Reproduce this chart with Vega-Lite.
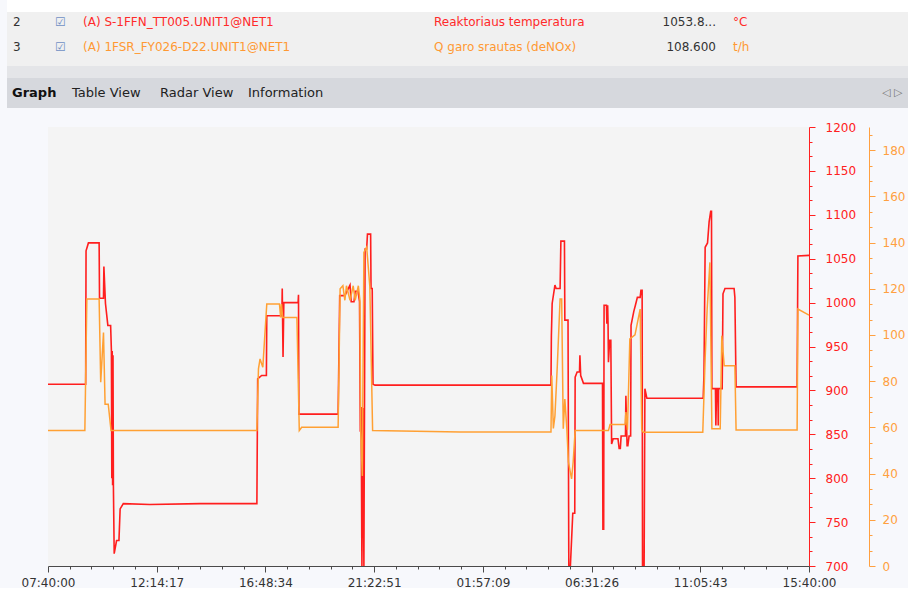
{
 "$schema": "https://vega.github.io/schema/vega-lite/v6.json",
 "background": "#f7f8fc",
 "padding": {"left": 7, "top": 0, "right": 0, "bottom": 0},
 "bounds": "full",
 "spacing": 13,
 "config": {"view": {"stroke": null}, "font": "DejaVu Sans", "axis": {"grid": false}},
 "datasets": {
  "table": [
   {"row":2,"col":1,"text":"2","tone":"ink"},
   {"row":2,"col":2,"text":"☑","tone":"box"},
   {"row":2,"col":3,"text":"(A) S-1FFN_TT005.UNIT1@NET1","tone":"temp"},
   {"row":2,"col":4,"text":"Reaktoriaus temperatura","tone":"temp"},
   {"row":2,"col":5,"text":"1053.8...","tone":"ink"},
   {"row":2,"col":6,"text":"°C","tone":"temp"},
   {"row":3,"col":1,"text":"3","tone":"ink"},
   {"row":3,"col":2,"text":"☑","tone":"box"},
   {"row":3,"col":3,"text":"(A) 1FSR_FY026-D22.UNIT1@NET1","tone":"flow"},
   {"row":3,"col":4,"text":"Q garo srautas (deNOx)","tone":"flow"},
   {"row":3,"col":5,"text":"108.600","tone":"ink"},
   {"row":3,"col":6,"text":"t/h","tone":"flow"}
  ],
  "tabs": [
   {"tab":1,"text":"Graph","selected":true},
   {"tab":2,"text":"Table View","selected":false},
   {"tab":3,"text":"Radar View","selected":false},
   {"tab":4,"text":"Information","selected":false},
   {"tab":5,"text":"◁ ▷","selected":false}
  ],
  "temp": [
   {"t":"2021-01-01T07:40Z","v":907},
   {"t":"2021-01-01T09:15Z","v":907},
   {"t":"2021-01-01T09:16Z","v":1059},
   {"t":"2021-01-01T09:22Z","v":1068},
   {"t":"2021-01-01T09:49Z","v":1068},
   {"t":"2021-01-01T09:50Z","v":1005},
   {"t":"2021-01-01T10:00Z","v":1005},
   {"t":"2021-01-01T10:01Z","v":1041},
   {"t":"2021-01-01T10:05Z","v":999},
   {"t":"2021-01-01T10:11Z","v":974},
   {"t":"2021-01-01T10:18Z","v":974},
   {"t":"2021-01-01T10:20Z","v":945},
   {"t":"2021-01-01T10:21Z","v":800},
   {"t":"2021-01-01T10:22Z","v":945},
   {"t":"2021-01-01T10:23Z","v":792},
   {"t":"2021-01-01T10:24Z","v":940},
   {"t":"2021-01-01T10:25Z","v":792},
   {"t":"2021-01-01T10:27Z","v":714},
   {"t":"2021-01-01T10:33Z","v":729},
   {"t":"2021-01-01T10:39Z","v":729},
   {"t":"2021-01-01T10:42Z","v":765},
   {"t":"2021-01-01T10:50Z","v":771},
   {"t":"2021-01-01T11:57Z","v":770},
   {"t":"2021-01-01T14:04Z","v":771},
   {"t":"2021-01-01T16:27Z","v":771},
   {"t":"2021-01-01T16:29Z","v":913},
   {"t":"2021-01-01T16:39Z","v":917},
   {"t":"2021-01-01T16:51Z","v":917},
   {"t":"2021-01-01T16:52Z","v":985},
   {"t":"2021-01-01T17:30Z","v":985},
   {"t":"2021-01-01T17:31Z","v":1016},
   {"t":"2021-01-01T17:33Z","v":938},
   {"t":"2021-01-01T17:35Z","v":1000},
   {"t":"2021-01-01T18:11Z","v":1000},
   {"t":"2021-01-01T18:12Z","v":1009},
   {"t":"2021-01-01T18:13Z","v":873},
   {"t":"2021-01-01T19:52Z","v":873},
   {"t":"2021-01-01T19:56Z","v":1008},
   {"t":"2021-01-01T20:09Z","v":1008},
   {"t":"2021-01-01T20:22Z","v":1020},
   {"t":"2021-01-01T20:25Z","v":1001},
   {"t":"2021-01-01T20:32Z","v":1001},
   {"t":"2021-01-01T20:35Z","v":1013},
   {"t":"2021-01-01T20:42Z","v":1013},
   {"t":"2021-01-01T20:46Z","v":1001},
   {"t":"2021-01-01T20:48Z","v":853},
   {"t":"2021-01-01T20:50Z","v":881},
   {"t":"2021-01-01T20:52Z","v":700},
   {"t":"2021-01-01T20:55Z","v":880},
   {"t":"2021-01-01T20:57Z","v":700},
   {"t":"2021-01-01T21:00Z","v":1061},
   {"t":"2021-01-01T21:04Z","v":1061},
   {"t":"2021-01-01T21:06Z","v":1078},
   {"t":"2021-01-01T21:14Z","v":1078},
   {"t":"2021-01-01T21:15Z","v":1016},
   {"t":"2021-01-01T21:18Z","v":1016},
   {"t":"2021-01-01T21:20Z","v":907},
   {"t":"2021-01-01T21:25Z","v":906},
   {"t":"2021-01-02T04:49Z","v":906},
   {"t":"2021-01-02T04:50Z","v":962},
   {"t":"2021-01-02T04:52Z","v":999},
   {"t":"2021-01-02T04:59Z","v":1020},
   {"t":"2021-01-02T05:02Z","v":1016},
   {"t":"2021-01-02T05:12Z","v":1016},
   {"t":"2021-01-02T05:14Z","v":1070},
   {"t":"2021-01-02T05:23Z","v":1070},
   {"t":"2021-01-02T05:24Z","v":980},
   {"t":"2021-01-02T05:32Z","v":980},
   {"t":"2021-01-02T05:34Z","v":700},
   {"t":"2021-01-02T05:38Z","v":700},
   {"t":"2021-01-02T05:44Z","v":760},
   {"t":"2021-01-02T05:49Z","v":760},
   {"t":"2021-01-02T05:50Z","v":915},
   {"t":"2021-01-02T05:55Z","v":921},
   {"t":"2021-01-02T06:01Z","v":921},
   {"t":"2021-01-02T06:02Z","v":940},
   {"t":"2021-01-02T06:04Z","v":917},
   {"t":"2021-01-02T06:11Z","v":908},
   {"t":"2021-01-02T06:59Z","v":908},
   {"t":"2021-01-02T07:00Z","v":742},
   {"t":"2021-01-02T07:02Z","v":742},
   {"t":"2021-01-02T07:03Z","v":997},
   {"t":"2021-01-02T07:09Z","v":997},
   {"t":"2021-01-02T07:10Z","v":976},
   {"t":"2021-01-02T07:12Z","v":997},
   {"t":"2021-01-02T07:13Z","v":976},
   {"t":"2021-01-02T07:14Z","v":932},
   {"t":"2021-01-02T07:17Z","v":957},
   {"t":"2021-01-02T07:20Z","v":957},
   {"t":"2021-01-02T07:22Z","v":839},
   {"t":"2021-01-02T07:26Z","v":845},
   {"t":"2021-01-02T07:38Z","v":845},
   {"t":"2021-01-02T07:41Z","v":834},
   {"t":"2021-01-02T07:44Z","v":834},
   {"t":"2021-01-02T07:46Z","v":848},
   {"t":"2021-01-02T07:57Z","v":848},
   {"t":"2021-01-02T07:58Z","v":894},
   {"t":"2021-01-02T08:01Z","v":837},
   {"t":"2021-01-02T08:03Z","v":837},
   {"t":"2021-01-02T08:06Z","v":848},
   {"t":"2021-01-02T08:10Z","v":848},
   {"t":"2021-01-02T08:11Z","v":974},
   {"t":"2021-01-02T08:18Z","v":990},
   {"t":"2021-01-02T08:22Z","v":997},
   {"t":"2021-01-02T08:27Z","v":1006},
   {"t":"2021-01-02T08:34Z","v":1006},
   {"t":"2021-01-02T08:36Z","v":1014},
   {"t":"2021-01-02T08:39Z","v":1014},
   {"t":"2021-01-02T08:40Z","v":700},
   {"t":"2021-01-02T08:44Z","v":700},
   {"t":"2021-01-02T08:46Z","v":902},
   {"t":"2021-01-02T08:51Z","v":891},
   {"t":"2021-01-02T11:13Z","v":891},
   {"t":"2021-01-02T11:15Z","v":917},
   {"t":"2021-01-02T11:18Z","v":1063},
   {"t":"2021-01-02T11:24Z","v":1068},
   {"t":"2021-01-02T11:28Z","v":1092},
   {"t":"2021-01-02T11:32Z","v":1104},
   {"t":"2021-01-02T11:34Z","v":1104},
   {"t":"2021-01-02T11:35Z","v":902},
   {"t":"2021-01-02T11:44Z","v":902},
   {"t":"2021-01-02T11:45Z","v":860},
   {"t":"2021-01-02T11:47Z","v":902},
   {"t":"2021-01-02T11:50Z","v":902},
   {"t":"2021-01-02T11:51Z","v":860},
   {"t":"2021-01-02T11:52Z","v":902},
   {"t":"2021-01-02T12:01Z","v":902},
   {"t":"2021-01-02T12:03Z","v":1010},
   {"t":"2021-01-02T12:08Z","v":1016},
   {"t":"2021-01-02T12:31Z","v":1016},
   {"t":"2021-01-02T12:33Z","v":1006},
   {"t":"2021-01-02T12:36Z","v":904},
   {"t":"2021-01-02T15:10Z","v":904},
   {"t":"2021-01-02T15:12Z","v":1053},
   {"t":"2021-01-02T15:40Z","v":1053.8}
  ],
  "flow": [
   {"t":"2021-01-01T07:40Z","v":58.6},
   {"t":"2021-01-01T09:13Z","v":58.6},
   {"t":"2021-01-01T09:18Z","v":115.6},
   {"t":"2021-01-01T09:49Z","v":115.6},
   {"t":"2021-01-01T09:53Z","v":79.5},
   {"t":"2021-01-01T10:00Z","v":101},
   {"t":"2021-01-01T10:04Z","v":70},
   {"t":"2021-01-01T10:12Z","v":70},
   {"t":"2021-01-01T10:19Z","v":58.6},
   {"t":"2021-01-01T16:27Z","v":58.6},
   {"t":"2021-01-01T16:31Z","v":85.3},
   {"t":"2021-01-01T16:35Z","v":89.6},
   {"t":"2021-01-01T16:42Z","v":86},
   {"t":"2021-01-01T16:52Z","v":113.4},
   {"t":"2021-01-01T17:24Z","v":113.4},
   {"t":"2021-01-01T17:27Z","v":107.6},
   {"t":"2021-01-01T17:29Z","v":113.4},
   {"t":"2021-01-01T17:32Z","v":107.6},
   {"t":"2021-01-01T18:08Z","v":107.6},
   {"t":"2021-01-01T18:14Z","v":58.6},
   {"t":"2021-01-01T18:20Z","v":60},
   {"t":"2021-01-01T19:52Z","v":60},
   {"t":"2021-01-01T19:57Z","v":120},
   {"t":"2021-01-01T20:04Z","v":121.3},
   {"t":"2021-01-01T20:09Z","v":115},
   {"t":"2021-01-01T20:13Z","v":121.3},
   {"t":"2021-01-01T20:22Z","v":115},
   {"t":"2021-01-01T20:30Z","v":121.3},
   {"t":"2021-01-01T20:35Z","v":115},
   {"t":"2021-01-01T20:43Z","v":121.3},
   {"t":"2021-01-01T20:47Z","v":115},
   {"t":"2021-01-01T20:49Z","v":58.6},
   {"t":"2021-01-01T20:53Z","v":39},
   {"t":"2021-01-01T20:57Z","v":135.7},
   {"t":"2021-01-01T21:04Z","v":138},
   {"t":"2021-01-01T21:12Z","v":121},
   {"t":"2021-01-01T21:19Z","v":58.6},
   {"t":"2021-01-02T01:00Z","v":58},
   {"t":"2021-01-02T04:49Z","v":58},
   {"t":"2021-01-02T04:51Z","v":82.4},
   {"t":"2021-01-02T04:55Z","v":59.5},
   {"t":"2021-01-02T04:59Z","v":65},
   {"t":"2021-01-02T05:05Z","v":86.7},
   {"t":"2021-01-02T05:12Z","v":115.6},
   {"t":"2021-01-02T05:16Z","v":115.6},
   {"t":"2021-01-02T05:20Z","v":59.4},
   {"t":"2021-01-02T05:24Z","v":72.3},
   {"t":"2021-01-02T05:29Z","v":59.4},
   {"t":"2021-01-02T05:33Z","v":45},
   {"t":"2021-01-02T05:41Z","v":37.7},
   {"t":"2021-01-02T05:45Z","v":45},
   {"t":"2021-01-02T05:50Z","v":58.6},
   {"t":"2021-01-02T07:14Z","v":58.6},
   {"t":"2021-01-02T07:18Z","v":61.2},
   {"t":"2021-01-02T07:56Z","v":61.2},
   {"t":"2021-01-02T07:58Z","v":66.6},
   {"t":"2021-01-02T08:02Z","v":58.9},
   {"t":"2021-01-02T08:08Z","v":98.3},
   {"t":"2021-01-02T08:21Z","v":100},
   {"t":"2021-01-02T08:34Z","v":111.2},
   {"t":"2021-01-02T08:38Z","v":58.9},
   {"t":"2021-01-02T08:42Z","v":57.9},
   {"t":"2021-01-02T11:12Z","v":57.9},
   {"t":"2021-01-02T11:18Z","v":90},
   {"t":"2021-01-02T11:23Z","v":111},
   {"t":"2021-01-02T11:30Z","v":131.4},
   {"t":"2021-01-02T11:35Z","v":59.4},
   {"t":"2021-01-02T11:56Z","v":59.4},
   {"t":"2021-01-02T12:00Z","v":99.7},
   {"t":"2021-01-02T12:06Z","v":86.7},
   {"t":"2021-01-02T12:33Z","v":86.7},
   {"t":"2021-01-02T12:36Z","v":58.9},
   {"t":"2021-01-02T15:10Z","v":58.9},
   {"t":"2021-01-02T15:12Z","v":111.2},
   {"t":"2021-01-02T15:40Z","v":108.6}
  ]
 },
 "vconcat": [
  {
   "spacing": 0,
   "bounds": "flush",
   "vconcat": [
    {
     "width": 901, "height": 12,
     "view": {"stroke": null, "fill": "#ffffff"},
     "data": {"values": [{}]},
     "mark": {"type": "text"},
     "encoding": {"text": {"value": ""}}
    },
    {
     "width": 901, "height": 54,
     "view": {"stroke": null, "fill": "#f0f0f0"},
     "data": {"name": "table"},
     "encoding": {
      "x": {"field": "col", "type": "quantitative", "scale": {"domain": [1,2,3,4,5,6], "range": [6,48,76,427,709,726], "zero": false, "nice": false}, "axis": null},
      "y": {"field": "row", "type": "quantitative", "scale": {"domain": [2,3], "range": [10,35], "zero": false, "nice": false}, "axis": null},
      "text": {"field": "text"},
      "color": {"field": "tone", "type": "nominal", "scale": {"domain": ["ink","box","temp","flow"], "range": ["#333333","#6f8fc4","#ff2a2a","#ff9933"]}, "legend": null}
     },
     "layer": [
      {"transform": [{"filter": "datum.col != 5"}], "mark": {"type": "text", "align": "left", "baseline": "middle", "fontSize": 12}},
      {"transform": [{"filter": "datum.col == 5"}], "mark": {"type": "text", "align": "right", "baseline": "middle", "fontSize": 12}}
     ]
    },
    {
     "width": 901, "height": 12,
     "view": {"stroke": null, "fill": "#e4e5e8"},
     "data": {"values": [{}]},
     "mark": {"type": "text"},
     "encoding": {"text": {"value": ""}}
    },
    {
     "width": 901, "height": 30,
     "view": {"stroke": null, "fill": "#d6d8dd"},
     "data": {"name": "tabs"},
     "encoding": {
      "x": {"field": "tab", "type": "quantitative", "scale": {"domain": [1,2,3,4,5], "range": [5,65,153,241,875], "zero": false, "nice": false}, "axis": null},
      "text": {"field": "text"}
     },
     "layer": [
      {"transform": [{"filter": "datum.selected"}], "mark": {"type": "text", "align": "left", "baseline": "middle", "fontSize": 13, "fontWeight": "bold", "color": "#111111"}},
      {"transform": [{"filter": "!datum.selected && datum.tab < 5"}], "mark": {"type": "text", "align": "left", "baseline": "middle", "fontSize": 13, "color": "#222222"}},
      {"transform": [{"filter": "datum.tab == 5"}], "mark": {"type": "text", "align": "left", "baseline": "middle", "fontSize": 11, "color": "#777777"}}
     ]
    }
   ]
  },
  {
   "spacing": 20,
   "bounds": "flush",
   "hconcat": [
    {
     "width": 21, "height": 439,
     "view": {"stroke": null},
     "data": {"values": [{}]},
     "mark": {"type": "text"},
     "encoding": {"text": {"value": ""}}
    },
    {
     "width": 761,
     "height": 439,
     "view": {"fill": "#f4f4f4", "stroke": null},
     "encoding": {
      "x": {
       "field": "t", "type": "temporal",
       "scale": {"type": "utc", "nice": false, "domain": [{"year":2021,"month":1,"date":1,"hours":7,"minutes":40,"utc":true},{"year":2021,"month":1,"date":2,"hours":15,"minutes":40,"utc":true}]},
       "axis": {
        "title": null, "domain": true, "ticks": true, "zindex": 1,
        "values": [1609486800000,1609490091000,1609493383000,1609496674000,1609499966000,1609503257000,1609506549000,1609509840000,1609513131000,1609516423000,1609519714000,1609523006000,1609526297000,1609529589000,1609532880000,1609536171000,1609539463000,1609542754000,1609546046000,1609549337000,1609552629000,1609555920000,1609559211000,1609562503000,1609565794000,1609569086000,1609572377000,1609575669000,1609578960000,1609582251000,1609585543000,1609588834000,1609592126000,1609595417000,1609598709000,1609602000000],
        "labelExpr": "abs((time(datum.value) - 1609486800000) / 16457142.857 - round((time(datum.value) - 1609486800000) / 16457142.857)) < 0.001 ? utcFormat(datum.value, '%H:%M:%S') : ''",
        "tickSize": {"condition": {"test": "abs((time(datum.value) - 1609486800000) / 16457142.857 - round((time(datum.value) - 1609486800000) / 16457142.857)) < 0.001", "value": 6}, "value": 3},
        "domainColor": "#4a4a4a", "domainWidth": 1, "tickColor": "#4a4a4a", "tickWidth": 1, "labelColor": "#333333",
        "labelFont": "DejaVu Sans", "labelFontSize": 12, "labelPadding": 5,
        "labelOverlap": false, "labelFlush": false, "labelBound": false, "grid": false
       }
      }
     },
     "layer": [
      {
       "data": {"name": "temp"},
       "mark": {"type": "line", "color": "#ff1e1e", "strokeWidth": 1.6},
       "encoding": {
        "y": {
         "field": "v", "type": "quantitative",
         "scale": {"domain": [700, 1200], "zero": false, "nice": false},
         "axis": {
          "orient": "right", "title": null, "format": "d",
          "values": [700,716.667,733.333,750,766.667,783.333,800,816.667,833.333,850,866.667,883.333,900,916.667,933.333,950,966.667,983.333,1000,1016.667,1033.333,1050,1066.667,1083.333,1100,1116.667,1133.333,1150,1166.667,1183.333,1200],
          "labelExpr": "abs(datum.value/50 - round(datum.value/50)) < 0.001 ? datum.label : ''",
          "tickSize": {"condition": {"test": "abs(datum.value/50 - round(datum.value/50)) < 0.001", "value": 6}, "value": 3},
          "domainColor": "#ff2020", "tickColor": "#ff2020", "labelColor": "#ff2020",
          "labelFont": "DejaVu Sans", "labelFontSize": 12, "labelPadding": 10,
          "labelOverlap": false, "labelFlush": false, "labelBound": false, "grid": false
         }
        }
       }
      },
      {
       "data": {"name": "flow"},
       "mark": {"type": "line", "color": "#ffa033", "strokeWidth": 1.5},
       "encoding": {
        "y": {
         "field": "v", "type": "quantitative",
         "scale": {"domain": [0, 190], "zero": false, "nice": false},
         "axis": {
          "orient": "right", "title": null, "format": "d", "offset": 60,
          "values": [0,6.667,13.333,20,26.667,33.333,40,46.667,53.333,60,66.667,73.333,80,86.667,93.333,100,106.667,113.333,120,126.667,133.333,140,146.667,153.333,160,166.667,173.333,180,186.667],
          "labelExpr": "abs(datum.value/20 - round(datum.value/20)) < 0.001 ? datum.label : ''",
          "tickSize": {"condition": {"test": "abs(datum.value/20 - round(datum.value/20)) < 0.001", "value": 6}, "value": 3},
          "domainColor": "#ffa040", "tickColor": "#ffa040", "labelColor": "#ffa040",
          "labelFont": "DejaVu Sans", "labelFontSize": 12, "labelPadding": 7,
          "labelOverlap": false, "labelFlush": false, "labelBound": false, "grid": false
         }
        }
       }
      }
     ],
     "resolve": {"scale": {"y": "independent"}}
    }
   ]
  }
 ]
}
